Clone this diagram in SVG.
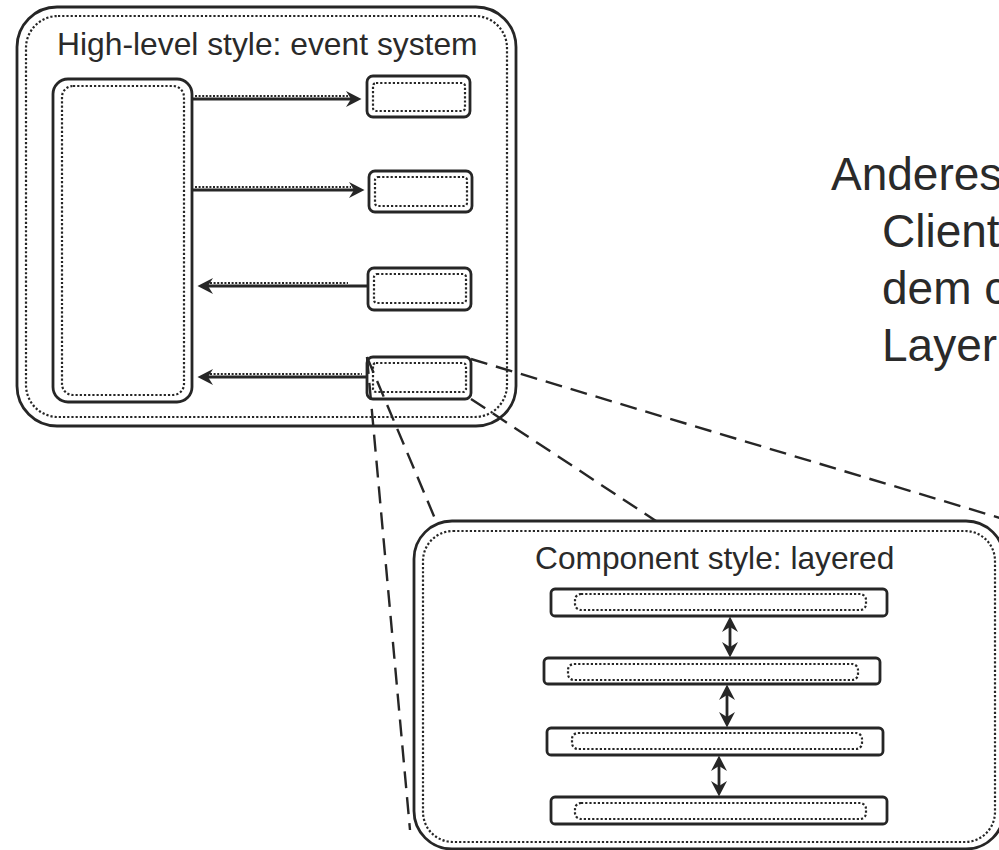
<svg xmlns="http://www.w3.org/2000/svg" width="999" height="850" viewBox="0 0 999 850">
  <defs>
    <style>
      .box { fill: none; stroke: #262626; stroke-width: 2.8; }
      .dot { fill: none; stroke: #262626; stroke-width: 2.2; stroke-dasharray: 2.2 2; }
      .wire { fill: none; stroke: #262626; stroke-width: 2.8; }
      .wire-dot { fill: none; stroke: #262626; stroke-width: 2.2; stroke-dasharray: 2 1.6; }
      .zoom { fill: none; stroke: #262626; stroke-width: 2.4; stroke-dasharray: 17 9; }
      .label { font-family: "Liberation Sans", Arial, sans-serif; fill: #2a2a2a; }
    </style>
    <marker id="head" viewBox="0 0 17 17" refX="5.5" refY="8.5" markerWidth="17" markerHeight="17" markerUnits="userSpaceOnUse" orient="auto-start-reverse">
      <path d="M0.5,0.5 L16,8.5 L0.5,16.5 L5.5,8.5 z" fill="#262626"/>
    </marker>
  </defs>

  <rect width="999" height="850" fill="#ffffff"/>

  <!-- event system container -->
  <g id="event-system">
    <rect class="box" x="17" y="7" width="499" height="419" rx="40"/>
    <rect class="dot" x="26" y="16" width="481" height="401" rx="32"/>
    <text class="label" x="57" y="55" font-size="31.8">High-level style: event system</text>
  </g>

  <g id="event-bus">
    <rect class="box" x="53" y="79" width="139" height="323" rx="15"/>
    <rect class="dot" x="62" y="86" width="122" height="309" rx="11"/>
  </g>

  <g id="component-1">
    <rect class="box" x="367" y="76" width="103" height="41" rx="6"/>
    <rect class="dot" x="373" y="83" width="92" height="28" rx="3"/>
  </g>
  <g id="component-2">
    <rect class="box" x="369" y="171" width="103" height="41" rx="6"/>
    <rect class="dot" x="375" y="177" width="92" height="29" rx="3"/>
  </g>
  <g id="component-3">
    <rect class="box" x="368" y="268" width="103" height="42" rx="6"/>
    <rect class="dot" x="374" y="274" width="92" height="29" rx="3"/>
  </g>
  <g id="component-4">
    <rect class="box" x="367" y="357" width="104" height="42" rx="6"/>
    <rect class="dot" x="373" y="363" width="93" height="29" rx="3"/>
  </g>

  <!-- layered component container -->
  <g id="layered">
    <rect class="box" x="414" y="521" width="590" height="328" rx="38"/>
    <rect class="dot" x="423" y="531" width="572" height="311" rx="30"/>
    <text class="label" x="535" y="569" font-size="31.7">Component style: layered</text>
  </g>

  <g id="layer-1">
    <rect class="box" x="551" y="589" width="336" height="27" rx="4"/>
    <rect class="dot" x="575" y="594" width="291" height="16" rx="6"/>
  </g>
  <g id="layer-2">
    <rect class="box" x="544" y="658" width="336" height="26" rx="4"/>
    <rect class="dot" x="568" y="664" width="290" height="16" rx="6"/>
  </g>
  <g id="layer-3">
    <rect class="box" x="547" y="728" width="336" height="27" rx="4"/>
    <rect class="dot" x="572" y="733" width="290" height="16" rx="6"/>
  </g>
  <g id="layer-4">
    <rect class="box" x="551" y="797" width="336" height="27" rx="4"/>
    <rect class="dot" x="575" y="803" width="291" height="16" rx="6"/>
  </g>

  <!-- side note, running past the right edge -->
  <g id="note">
    <text class="label" font-size="46">
      <tspan x="831" y="190">Anderes</tspan>
      <tspan x="882" y="247">Client</tspan>
      <tspan x="882" y="304">dem c</tspan>
      <tspan x="882" y="361">Layer</tspan>
    </text>
  </g>

  <g id="connectors">
    <!-- events between bus and components -->
    <line class="wire" x1="192" y1="99" x2="351" y2="99" marker-end="url(#head)"/>
    <line class="wire-dot" x1="195" y1="96" x2="348" y2="96"/>
    <line class="wire" x1="192" y1="190" x2="354" y2="190" marker-end="url(#head)"/>
    <line class="wire-dot" x1="195" y1="187" x2="351" y2="187"/>
    <line class="wire" x1="368" y1="286" x2="208" y2="286" marker-end="url(#head)"/>
    <line class="wire-dot" x1="210" y1="283" x2="348" y2="283"/>
    <line class="wire" x1="367" y1="377" x2="208" y2="377" marker-end="url(#head)"/>
    <line class="wire-dot" x1="210" y1="374" x2="362" y2="374"/>

    <!-- calls between layers -->
    <line class="wire" x1="730" y1="627" x2="730" y2="647" marker-start="url(#head)" marker-end="url(#head)"/>
    <line class="wire" x1="727" y1="695" x2="727" y2="717" marker-start="url(#head)" marker-end="url(#head)"/>
    <line class="wire" x1="719" y1="766" x2="719" y2="786" marker-start="url(#head)" marker-end="url(#head)"/>

    <!-- magnification lines -->
    <line class="zoom" x1="367" y1="357" x2="410" y2="830"/>
    <line class="zoom" x1="367" y1="357" x2="436" y2="521"/>
    <line class="zoom" x1="471" y1="399" x2="656" y2="521"/>
    <line class="zoom" x1="471" y1="359" x2="1010" y2="521"/>
  </g>
</svg>
